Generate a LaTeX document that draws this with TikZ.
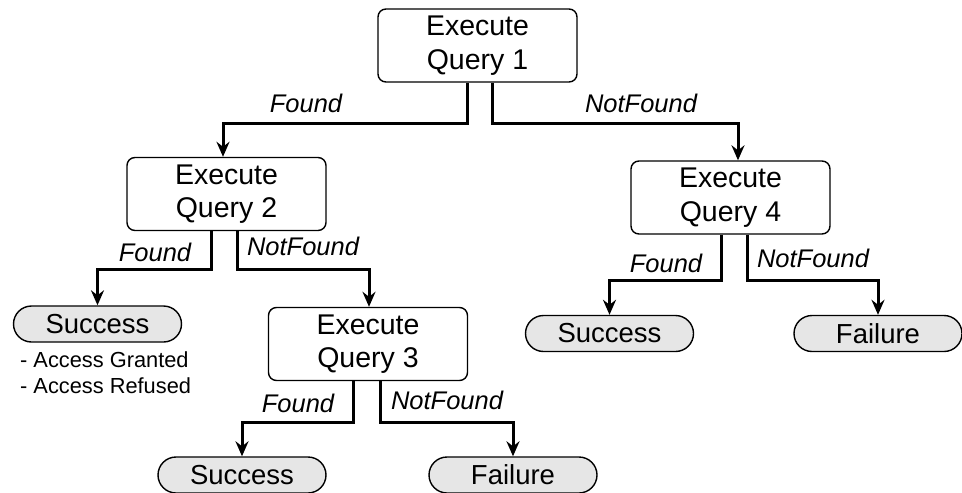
\documentclass[tikz,border=0pt]{standalone}
\usepackage{fontspec}
\setmainfont{Liberation Sans}
\usetikzlibrary{arrows.meta}
\definecolor{pillgray}{HTML}{E6E6E6}
\tikzset{
  query/.style={draw, line width=1.4pt, rounded corners=8pt, minimum width=199pt,
    minimum height=73pt, align=center, inner sep=0pt,
    font=\fontsize{28.5}{33.5}\selectfont},
  outcome/.style={draw, line width=1.4pt, fill=pillgray, rounded corners=18pt,
    minimum width=168pt, minimum height=36pt, inner sep=0pt,
    font=\fontsize{27.5}{33}\selectfont},
  branch/.style={line width=3pt, -{Stealth[length=15pt,width=13pt,inset=5pt]}},
  tag/.style={font=\fontsize{25.5}{30}\selectfont\itshape, inner sep=0pt},
  note/.style={font=\fontsize{21.8}{26}\selectfont, inner sep=0pt, anchor=base west}
}
\begin{document}
\begin{tikzpicture}[x=1pt, y=-1pt]
\useasboundingbox (0,0) rectangle (962,493);

% query boxes
\node[query] (q1) at (477.5,45.5) {Execute\\Query 1};
\node[query] (q2) at (226.5,194) {Execute\\Query 2};
\node[query] (q3) at (368,344) {Execute\\Query 3};
\node[query] (q4) at (730.5,197.5) {Execute\\Query 4};

% outcomes
\node[outcome] (s1) at (97.5,324) {Success};
\node[outcome] (s3) at (242,475) {Success};
\node[outcome] (f3) at (513,475) {Failure};
\node[outcome] (s4) at (609.5,333.5) {Success};
\node[outcome] (f4) at (878,333.5) {Failure};

% notes under the first success
\node[note] (n1) at (20,367) {- Access Granted};
\node[note] (n2) at (20,393) {- Access Refused};

% branches
\draw[branch] ([xshift=-10.5pt]q1.south) -- ++(0,41) -| ([xshift=-3.5pt]q2.north);
\draw[branch] ([xshift=14.5pt]q1.south) -- ++(0,41) -| ([xshift=7.5pt]q4.north);
\draw[branch] ([xshift=-15.5pt]q2.south) -- ++(0,38) -| (s1.north);
\draw[branch] ([xshift=10.5pt]q2.south) -- ++(0,38) -| ([xshift=1pt]q3.north);
\draw[branch] ([xshift=-15pt]q3.south) -- ++(0,41) -| (s3.north);
\draw[branch] ([xshift=12pt]q3.south) -- ++(0,41) -| (f3.north);
\draw[branch] ([xshift=-9.5pt]q4.south) -- ++(0,46) -| (s4.north);
\draw[branch] ([xshift=16.5pt]q4.south) -- ++(0,46) -| (f4.north);

% branch labels
\node[tag] (l1) at (306,103) {Found};
\node[tag] (l2) at (641,103) {NotFound};
\node[tag] (l3) at (155,252) {Found};
\node[tag] (l4) at (303,246) {NotFound};
\node[tag] (l5) at (298,403) {Found};
\node[tag] (l6) at (447,400) {NotFound};
\node[tag] (l7) at (666,263) {Found};
\node[tag] (l8) at (813,258) {NotFound};
\end{tikzpicture}
\end{document}
